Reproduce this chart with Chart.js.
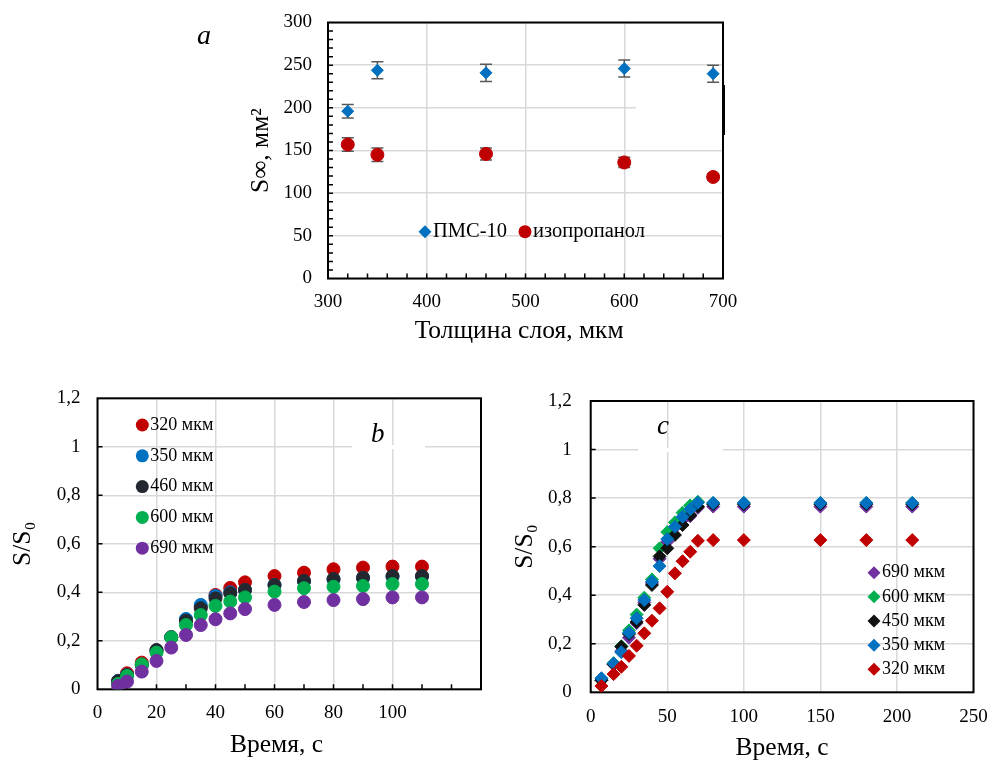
<!DOCTYPE html>
<html lang="ru">
<head>
<meta charset="UTF-8">
<title>S∞ и S/S0 — толщина слоя и время</title>
<script src="https://cdn.jsdelivr.net/npm/chart.js@4"></script>
<style>
body{margin:0;background:#fff;width:989px;height:760px;overflow:hidden;position:relative;font-family:"Liberation Serif","Times New Roman",serif;color:#000}
.panel{position:absolute}
.tag{position:absolute;font-style:italic;font-size:27px;line-height:1}
.strip{position:absolute;background:#fff;height:4px}
</style>
</head>
<body>
<div class="panel" style="left:180px;top:0;width:560px;height:350px"><canvas id="chart-a" width="560" height="350"></canvas></div>
<div class="panel" style="left:0;top:380px;width:490px;height:380px"><canvas id="chart-b" width="490" height="380"></canvas></div>
<div class="panel" style="left:500px;top:380px;width:489px;height:380px"><canvas id="chart-c" width="489" height="380"></canvas></div>

<div class="strip" style="left:636px;top:106px;width:86px"></div>
<div style="position:absolute;left:723px;top:85px;width:2px;height:50px;background:#000"></div>
<div class="strip" style="left:352px;top:445px;width:73px"></div>
<div class="strip" style="left:638px;top:448px;width:85px"></div>

<div class="tag" style="left:197px;top:21px;font-size:28px">a</div>
<div class="tag" style="left:371px;top:420px">b</div>
<div class="tag" style="left:657px;top:412px">c</div>

<script>
// panel a: S∞ vs layer thickness
const thicknessA = [320, 350, 460, 600, 690];
const pms10 = [196, 244, 241, 246, 240];
const pms10Err = [8, 10, 10, 10, 10];
const isoprop = [157, 145, 146, 136, 119];
const isopropErr = [8, 8, 7, 6, 4];

// panel b: S/S0 vs time (circles)
const timeB = [7, 10, 15, 20, 25, 30, 35, 40, 45, 50, 60, 70, 80, 90, 100, 110];
const b320 = [0.03, 0.066, 0.11, 0.16, 0.215, 0.285, 0.34, 0.389, 0.418, 0.441, 0.467, 0.481, 0.495, 0.502, 0.506, 0.506];
const b350 = [0.035, 0.06, 0.1, 0.16, 0.215, 0.29, 0.348, 0.385, 0.4, 0.41, 0.43, 0.445, 0.453, 0.46, 0.465, 0.465];
const b460 = [0.034, 0.059, 0.1, 0.162, 0.214, 0.283, 0.334, 0.375, 0.396, 0.41, 0.43, 0.447, 0.455, 0.46, 0.467, 0.467];
const b600 = [0.022, 0.055, 0.103, 0.151, 0.214, 0.265, 0.306, 0.344, 0.362, 0.379, 0.403, 0.417, 0.423, 0.426, 0.434, 0.434];
const b690 = [0.014, 0.032, 0.073, 0.117, 0.172, 0.224, 0.265, 0.289, 0.313, 0.331, 0.348, 0.36, 0.368, 0.372, 0.379, 0.379];

// panel c: S/S0 vs time (diamonds)
const timeC = [7, 15, 20, 25, 30, 35, 40, 45, 50, 55, 60, 65, 70, 80, 100, 150, 180, 210];
const c690 = [0.05, 0.115, 0.17, 0.225, 0.285, 0.37, 0.45, 0.55, 0.62, 0.68, 0.71, 0.725, 0.76, 0.765, 0.765, 0.765, 0.765, 0.765];
const c600 = [0.05, 0.12, 0.19, 0.255, 0.32, 0.39, 0.465, 0.593, 0.66, 0.7, 0.74, 0.77, 0.785, 0.78, 0.78, 0.78, 0.78, 0.78];
const c450 = [0.05, 0.115, 0.188, 0.24, 0.29, 0.36, 0.442, 0.56, 0.593, 0.648, 0.689, 0.73, 0.765, 0.775, 0.775, 0.775, 0.775, 0.775];
const c350 = [0.058, 0.119, 0.165, 0.245, 0.305, 0.38, 0.456, 0.52, 0.631, 0.682, 0.723, 0.754, 0.781, 0.78, 0.78, 0.78, 0.78, 0.78];
const c320 = [0.026, 0.075, 0.105, 0.15, 0.192, 0.243, 0.295, 0.346, 0.414, 0.49, 0.54, 0.579, 0.624, 0.627, 0.627, 0.627, 0.627, 0.627];

const RED = '#C00000', BLUE = '#0070C0', BLACK = '#232830', GREEN = '#00B050', PURPLE = '#7030A0';
const GRID = '#d9d9d9';
const SERIF = '"Liberation Serif", "Times New Roman", serif';
const NB = '\u00A0';

Chart.defaults.font.family = SERIF;
Chart.defaults.color = '#000';

const pts = (xs, ys) => xs.map((x, i) => ({x, y: ys[i]}));
const comma = v => String(Math.round(v * 10) / 10).replace('.', ',');

function drawMarker(ctx, style, x, y, r, color) {
  ctx.fillStyle = color;
  ctx.beginPath();
  if (style === 'rectRot') {
    ctx.moveTo(x - r, y); ctx.lineTo(x, y - r); ctx.lineTo(x + r, y); ctx.lineTo(x, y + r);
    ctx.closePath();
  } else {
    ctx.arc(x, y, r, 0, Math.PI * 2);
  }
  ctx.fill();
}

// plot frame + inner ticks like the excel original
const frame = {
  id: 'frame',
  beforeDatasetsDraw(chart, args, o) {
    const {ctx, chartArea: a, scales: {x, y}} = chart;
    ctx.save();
    ctx.strokeStyle = '#000';
    ctx.lineWidth = 1.5;
    ctx.beginPath();
    if (o.xStep) {
      const n = Math.round((x.max - x.min) / o.xStep);
      for (let i = 1; i < n; i++) {
        const px = x.getPixelForValue(x.min + i * o.xStep);
        ctx.moveTo(px, a.bottom); ctx.lineTo(px, a.bottom - o.len);
      }
    }
    if (o.yStep) {
      const n = Math.round((y.max - y.min) / o.yStep);
      for (let i = 1; i < n; i++) {
        const py = y.getPixelForValue(y.min + i * o.yStep);
        ctx.moveTo(a.left, py); ctx.lineTo(a.left + o.len, py);
      }
    }
    ctx.stroke();
    ctx.lineWidth = 2;
    ctx.strokeRect(a.left, a.top, a.width, a.height);
    ctx.restore();
  }
};

const errorBars = {
  id: 'errorBars',
  beforeDatasetsDraw(chart, args, o) {
    const {ctx, scales: {x, y}} = chart;
    ctx.save();
    ctx.strokeStyle = o.color;
    ctx.lineWidth = o.width;
    chart.data.datasets.forEach(ds => {
      if (!ds.errors) return;
      ds.data.forEach((p, j) => {
        const px = x.getPixelForValue(p.x);
        const hi = y.getPixelForValue(p.y + ds.errors[j]);
        const lo = y.getPixelForValue(p.y - ds.errors[j]);
        ctx.beginPath();
        ctx.moveTo(px, hi); ctx.lineTo(px, lo);
        ctx.moveTo(px - o.cap, hi); ctx.lineTo(px + o.cap, hi);
        ctx.moveTo(px - o.cap, lo); ctx.lineTo(px + o.cap, lo);
        ctx.stroke();
      });
    });
    ctx.restore();
  }
};

const markerLegend = {
  id: 'markerLegend',
  afterDatasetsDraw(chart, args, o) {
    const {ctx} = chart;
    ctx.save();
    ctx.font = o.font;
    ctx.textBaseline = 'middle';
    chart.data.datasets.forEach((ds, i) => {
      const mx = o.x + i * o.dx, my = o.y + i * o.dy;
      drawMarker(ctx, ds.pointStyle, mx, my, o.radius, ds.pointBackgroundColor);
      ctx.fillStyle = '#000';
      ctx.fillText(ds.label, mx + o.gap, my);
    });
    ctx.restore();
  }
};

function series(label, xs, ys, color, style, r, order) {
  return {
    label, data: pts(xs, ys), pointStyle: style, pointRadius: r,
    pointBackgroundColor: color, pointBorderColor: color, pointBorderWidth: 1,
    backgroundColor: color, borderColor: color, showLine: false, order
  };
}

function axis(opts) {
  return {
    type: 'linear', min: opts.min, max: opts.max,
    ticks: {stepSize: opts.step, padding: opts.pad, font: {size: 19}, color: '#000', callback: opts.fmt || (v => v)},
    grid: {color: GRID, lineWidth: 1.5, drawTicks: false},
    border: {display: false},
    title: {display: true, text: opts.title, font: {size: 25.5}, color: '#000', padding: opts.tpad},
    afterBuildTicks: opts.keep ? s => { s.ticks = s.ticks.filter(t => t.value % opts.keep === 0); } : undefined,
    afterFit: s => {
      // keep the plot box where layout.padding puts it
      s.paddingLeft = s.paddingRight = s.paddingTop = s.paddingBottom = 0;
      if (opts.w) s.width = opts.w;
      if (opts.h) s.height = opts.h;
    }
  };
}

const common = {responsive: false, animation: false, events: []};

// a
const pmsSet = series('ПМС-10', thicknessA, pms10, BLUE, 'rectRot', 6, 2);
pmsSet.errors = pms10Err;
const isoSet = series('изопропанол', thicknessA, isoprop, RED, 'circle', 6.5, 1);
isoSet.errors = isopropErr;
new Chart(document.getElementById('chart-a'), {
  type: 'scatter',
  data: {datasets: [pmsSet, isoSet]},
  options: {
    ...common,
    layout: {padding: {left: 62, top: 22.5, right: 17, bottom: 0}},
    plugins: {
      legend: {display: false}, tooltip: {enabled: false},
      frame: {xStep: 20, yStep: 10, len: 5},
      errorBars: {color: '#595959', width: 1.5, cap: 6},
      markerLegend: {x: 245, y: 231.7, dx: 100, dy: 0, gap: 8, radius: 6.5, font: '20.5px ' + SERIF}
    },
    scales: {
      x: axis({min: 300, max: 700, step: 100, pad: 12, title: 'Толщина слоя, мкм' + NB + NB, tpad: {top: 0, bottom: 3}, h: 71.5}),
      y: axis({min: 0, max: 300, step: 50, pad: 16, title: 'S∞, мм²', tpad: {top: 4, bottom: 0}, w: 86})
    }
  },
  plugins: [frame, errorBars, markerLegend]
});

// b
new Chart(document.getElementById('chart-b'), {
  type: 'scatter',
  data: {datasets: [
    series('320 мкм', timeB, b320, RED, 'circle', 6.5, 5),
    series('350 мкм', timeB, b350, BLUE, 'circle', 6.5, 4),
    series('460 мкм', timeB, b460, BLACK, 'circle', 6.5, 3),
    series('600 мкм', timeB, b600, GREEN, 'circle', 6.5, 2),
    series('690 мкм', timeB, b690, PURPLE, 'circle', 6.5, 1)
  ]},
  options: {
    ...common,
    layout: {padding: {left: 5, top: 18.3, right: 9, bottom: 0}},
    plugins: {
      legend: {display: false}, tooltip: {enabled: false},
      frame: {xStep: 10, yStep: 0.2, len: 5},
      markerLegend: {x: 142.3, y: 45, dx: 0, dy: 30.8, gap: 8, radius: 6.5, font: '18px ' + SERIF}
    },
    scales: {
      x: axis({min: 0, max: 130, step: 20, keep: 20, pad: 12, title: 'Время, с' + NB + NB + NB + NB, tpad: {top: 0, bottom: -1}, h: 70.7}),
      y: axis({min: 0, max: 1.2, step: 0.2, pad: 17, fmt: comma, title: 'S/S₀', tpad: {top: 3, bottom: 0}, w: 92.5})
    }
  },
  plugins: [frame, markerLegend]
});

// c
new Chart(document.getElementById('chart-c'), {
  type: 'scatter',
  data: {datasets: [
    series('690 мкм', timeC, c690, PURPLE, 'rectRot', 6.5, 5),
    series('600 мкм', timeC, c600, GREEN, 'rectRot', 6.5, 4),
    series('450 мкм', timeC, c450, '#111111', 'rectRot', 6.5, 3),
    series('350 мкм', timeC, c350, BLUE, 'rectRot', 6.5, 2),
    series('320 мкм', timeC, c320, RED, 'rectRot', 6.5, 1)
  ]},
  options: {
    ...common,
    layout: {padding: {left: 7, top: 21, right: 15.5, bottom: 0}},
    plugins: {
      legend: {display: false}, tooltip: {enabled: false},
      frame: {xStep: 0, yStep: 0.2, len: 5},
      markerLegend: {x: 374, y: 192.7, dx: 0, dy: 24.15, gap: 8, radius: 6.5, font: '18px ' + SERIF}
    },
    scales: {
      x: axis({min: 0, max: 250, step: 50, pad: 13, title: 'Время, с', tpad: {top: 0, bottom: -4}, h: 67.7}),
      y: axis({min: 0, max: 1.2, step: 0.2, pad: 19, fmt: comma, title: 'S/S₀', tpad: {top: 3, bottom: 0}, w: 83.7})
    }
  },
  plugins: [frame, markerLegend]
});
</script>
</body>
</html>
